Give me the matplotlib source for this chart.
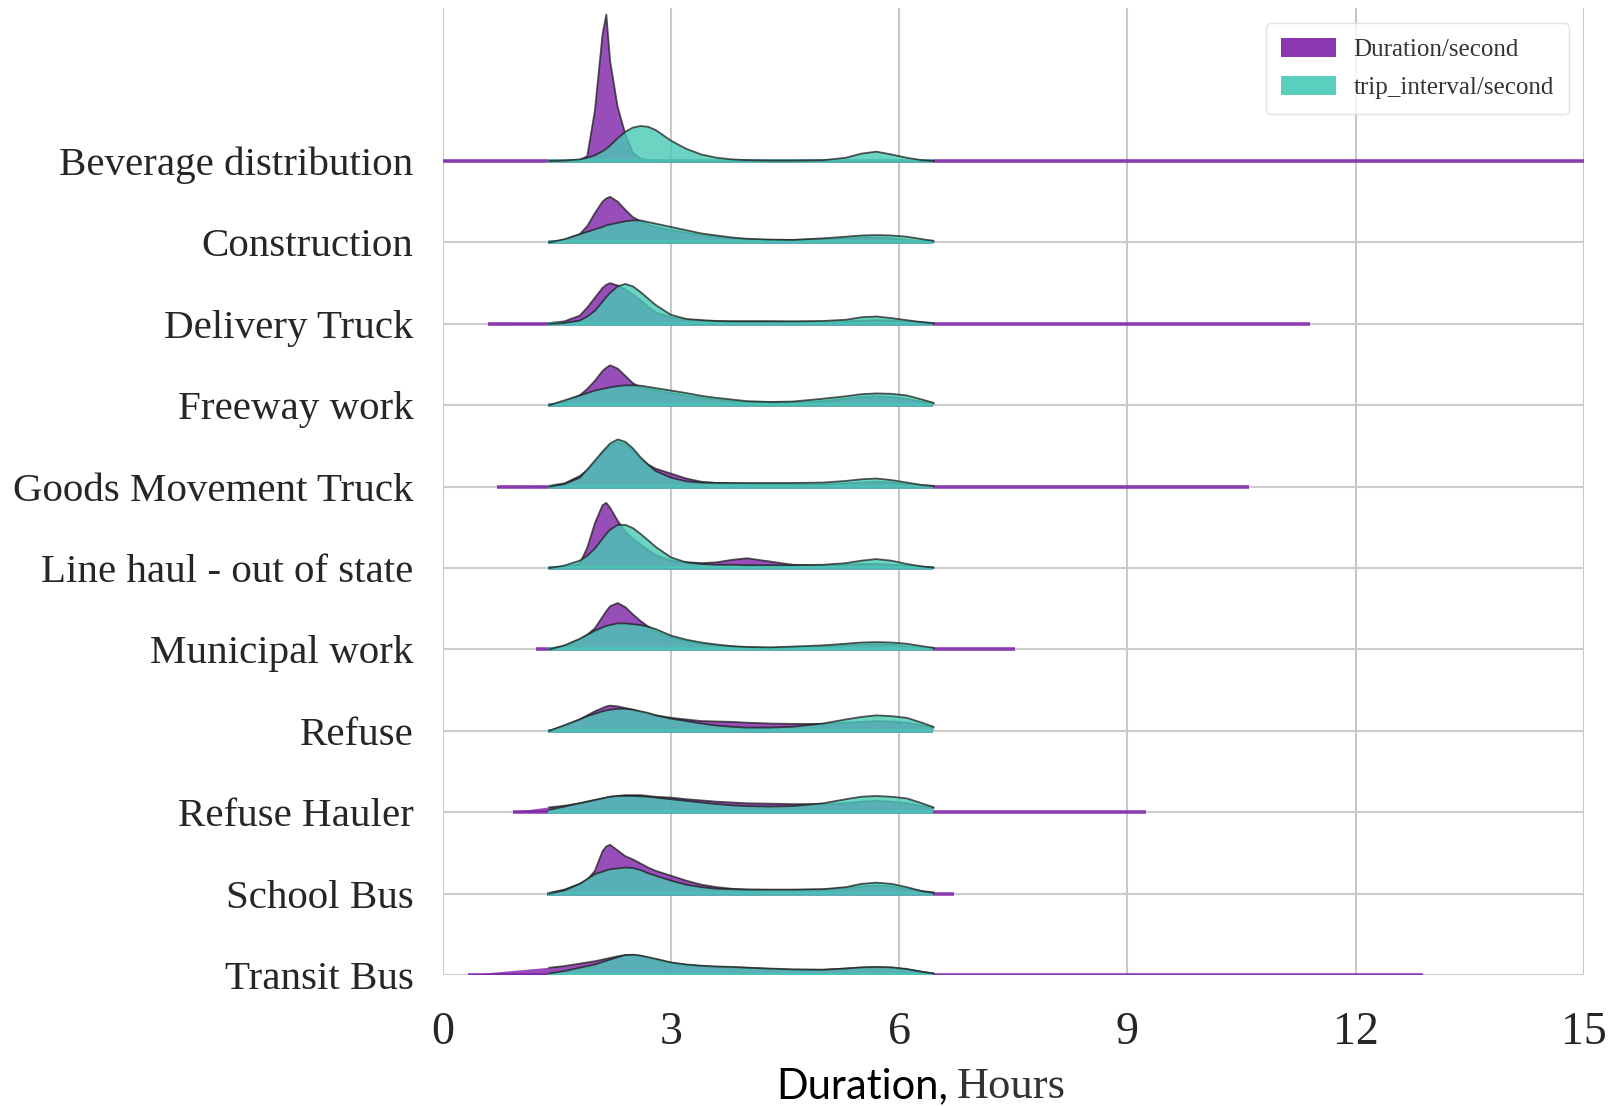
import matplotlib.pyplot as plt
from matplotlib.patches import Patch

plt.rcParams['font.family'] = ['Liberation Serif', 'DejaVu Serif']

CATEGORIES = ["Beverage distribution", "Construction", "Delivery Truck", "Freeway work",
              "Goods Movement Truck", "Line haul - out of state", "Municipal work",
              "Refuse", "Refuse Hauler", "School Bus", "Transit Bus"]

HOURS = [1.4, 1.6, 1.8, 1.9, 2.0, 2.1, 2.15, 2.2, 2.3, 2.4, 2.5, 2.6, 2.7, 2.8, 3.0,
         3.2, 3.4, 3.6, 3.8, 4.0, 4.3, 4.6, 5.0, 5.3, 5.5, 5.7, 5.9, 6.1, 6.3, 6.45]

DURATION = [
    [0, 0, 0.01, 0.06, 0.62, 1.55, 1.80, 1.23, 0.66, 0.33, 0.10, 0.03, 0.01, 0.005, 0,
     0, 0, 0, 0, 0, 0, 0, 0, 0, 0, 0, 0, 0, 0, 0],
    [0, 0.03, 0.10, 0.20, 0.36, 0.50, 0.54, 0.56, 0.50, 0.40, 0.31, 0.26, 0.22, 0.19, 0.15,
     0.12, 0.09, 0.07, 0.05, 0.035, 0.03, 0.03, 0.04, 0.05, 0.06, 0.06, 0.05, 0.03, 0.015, 0.005],
    [0.01, 0.03, 0.10, 0.20, 0.32, 0.44, 0.48, 0.50, 0.47, 0.42, 0.36, 0.29, 0.21, 0.14, 0.08,
     0.05, 0.04, 0.03, 0.03, 0.03, 0.03, 0.025, 0.025, 0.03, 0.04, 0.045, 0.04, 0.03, 0.02, 0.01],
    [0, 0.04, 0.12, 0.20, 0.30, 0.42, 0.46, 0.49, 0.45, 0.36, 0.27, 0.22, 0.20, 0.18, 0.15,
     0.12, 0.09, 0.07, 0.05, 0.04, 0.035, 0.035, 0.05, 0.08, 0.10, 0.11, 0.10, 0.08, 0.04, 0.02],
    [0.01, 0.04, 0.13, 0.20, 0.30, 0.41, 0.46, 0.50, 0.55, 0.52, 0.44, 0.34, 0.27, 0.22, 0.16,
     0.10, 0.06, 0.045, 0.04, 0.035, 0.03, 0.03, 0.03, 0.04, 0.05, 0.06, 0.05, 0.03, 0.015, 0.01],
    [0, 0.01, 0.05, 0.25, 0.55, 0.77, 0.80, 0.74, 0.58, 0.45, 0.36, 0.29, 0.22, 0.16, 0.09,
     0.07, 0.06, 0.07, 0.10, 0.12, 0.08, 0.04, 0.03, 0.04, 0.05, 0.05, 0.04, 0.03, 0.015, 0.005],
    [0.01, 0.04, 0.12, 0.18, 0.26, 0.40, 0.47, 0.53, 0.57, 0.52, 0.43, 0.35, 0.28, 0.22, 0.15,
     0.10, 0.07, 0.05, 0.035, 0.025, 0.02, 0.025, 0.035, 0.05, 0.06, 0.065, 0.06, 0.04, 0.02, 0.01],
    [0, 0.06, 0.14, 0.19, 0.24, 0.28, 0.30, 0.31, 0.30, 0.28, 0.26, 0.23, 0.21, 0.19, 0.16,
     0.14, 0.12, 0.115, 0.11, 0.10, 0.09, 0.085, 0.085, 0.10, 0.11, 0.12, 0.115, 0.10, 0.07, 0.04],
    [0.06, 0.08, 0.11, 0.13, 0.15, 0.17, 0.18, 0.19, 0.20, 0.21, 0.21, 0.21, 0.20, 0.19, 0.18,
     0.16, 0.145, 0.13, 0.12, 0.11, 0.105, 0.10, 0.10, 0.11, 0.13, 0.14, 0.13, 0.11, 0.08, 0.05],
    [0.01, 0.05, 0.12, 0.17, 0.28, 0.52, 0.58, 0.60, 0.53, 0.46, 0.42, 0.37, 0.32, 0.28, 0.22,
     0.16, 0.11, 0.08, 0.06, 0.05, 0.045, 0.045, 0.05, 0.07, 0.09, 0.10, 0.09, 0.06, 0.03, 0.015],
    [0.09, 0.11, 0.14, 0.155, 0.17, 0.19, 0.20, 0.21, 0.23, 0.245, 0.245, 0.235, 0.21, 0.19, 0.15,
     0.125, 0.11, 0.10, 0.095, 0.09, 0.075, 0.065, 0.065, 0.08, 0.09, 0.095, 0.09, 0.07, 0.04, 0.02],
]

TRIP_INTERVAL = [
    [0, 0.005, 0.02, 0.04, 0.07, 0.12, 0.15, 0.19, 0.28, 0.36, 0.41, 0.43, 0.42, 0.38, 0.25,
     0.15, 0.08, 0.04, 0.02, 0.01, 0.005, 0.005, 0.01, 0.04, 0.09, 0.115, 0.08, 0.04, 0.01, 0],
    [0, 0.04, 0.10, 0.13, 0.16, 0.19, 0.21, 0.22, 0.24, 0.26, 0.27, 0.27, 0.25, 0.23, 0.19,
     0.15, 0.11, 0.085, 0.06, 0.045, 0.035, 0.03, 0.05, 0.07, 0.085, 0.09, 0.085, 0.07, 0.04, 0.02],
    [0, 0.01, 0.04, 0.09, 0.16, 0.27, 0.33, 0.38, 0.46, 0.49, 0.46, 0.39, 0.31, 0.23, 0.11,
     0.06, 0.045, 0.035, 0.03, 0.03, 0.03, 0.03, 0.035, 0.05, 0.08, 0.09, 0.07, 0.045, 0.02, 0.005],
    [0, 0.06, 0.12, 0.15, 0.18, 0.20, 0.21, 0.22, 0.235, 0.245, 0.245, 0.24, 0.225, 0.21, 0.18,
     0.15, 0.115, 0.09, 0.07, 0.05, 0.04, 0.045, 0.08, 0.11, 0.135, 0.145, 0.14, 0.12, 0.07, 0.03],
    [0, 0.03, 0.11, 0.21, 0.32, 0.43, 0.48, 0.53, 0.58, 0.55, 0.47, 0.36, 0.27, 0.19, 0.11,
     0.065, 0.05, 0.045, 0.045, 0.045, 0.045, 0.045, 0.05, 0.07, 0.09, 0.10, 0.08, 0.05, 0.02, 0.005],
    [0, 0.03, 0.09, 0.15, 0.24, 0.36, 0.42, 0.47, 0.53, 0.53, 0.49, 0.42, 0.34, 0.26, 0.13,
     0.07, 0.05, 0.04, 0.04, 0.035, 0.035, 0.035, 0.04, 0.06, 0.09, 0.11, 0.09, 0.05, 0.02, 0.005],
    [0, 0.05, 0.13, 0.18, 0.23, 0.27, 0.29, 0.30, 0.32, 0.32, 0.31, 0.30, 0.28, 0.25, 0.17,
     0.12, 0.085, 0.06, 0.04, 0.03, 0.025, 0.035, 0.05, 0.07, 0.085, 0.09, 0.085, 0.07, 0.04, 0.02],
    [0, 0.07, 0.14, 0.18, 0.21, 0.24, 0.25, 0.26, 0.27, 0.27, 0.26, 0.24, 0.22, 0.19, 0.15,
     0.12, 0.09, 0.065, 0.05, 0.04, 0.04, 0.05, 0.09, 0.14, 0.17, 0.19, 0.18, 0.16, 0.10, 0.05],
    [0.03, 0.07, 0.11, 0.13, 0.15, 0.17, 0.18, 0.19, 0.20, 0.20, 0.20, 0.195, 0.19, 0.18, 0.16,
     0.14, 0.12, 0.10, 0.085, 0.075, 0.07, 0.075, 0.11, 0.16, 0.19, 0.20, 0.19, 0.17, 0.11, 0.06],
    [0, 0.04, 0.12, 0.18, 0.24, 0.27, 0.285, 0.30, 0.31, 0.32, 0.315, 0.29, 0.25, 0.22, 0.16,
     0.11, 0.08, 0.06, 0.055, 0.05, 0.05, 0.05, 0.055, 0.08, 0.12, 0.135, 0.12, 0.08, 0.03, 0.01],
    [0.02, 0.05, 0.09, 0.11, 0.13, 0.16, 0.175, 0.19, 0.22, 0.245, 0.25, 0.24, 0.22, 0.20, 0.155,
     0.13, 0.115, 0.105, 0.10, 0.09, 0.08, 0.07, 0.065, 0.08, 0.095, 0.10, 0.095, 0.075, 0.04, 0.02],
]

# data range (hours) of each ridge
DURATION_START = [0.0, 1.38, 0.59, 1.38, 0.71, 1.38, 1.23, 1.38, 0.92, 1.37, 0.33]
DURATION_END = [15.0, 6.45, 11.4, 6.45, 10.6, 6.45, 7.52, 6.45, 9.25, 6.72, 12.89]
TRIP_START = [1.38] * 11
TRIP_END = [6.45] * 11

XTICKS = [0, 3, 6, 9, 12, 15]

PURPLE = "#7e22a8"
TEAL = "#48cab6"
EDGE = "#1e1e1e"

fig = plt.figure(figsize=(16.16, 11.06), dpi=100)
ax = fig.add_axes([0.274, 0.1184, 0.706, 0.8744])

n = len(CATEGORIES)
for i, name in enumerate(CATEGORIES):
    base = n - 1 - i
    z = 2 + i * 4
    ax.axhline(base, color="#cccccc", lw=1.5, zorder=z - 0.5)
    for vals, start, end, color in ((DURATION[i], DURATION_START[i], DURATION_END[i], PURPLE),
                                    (TRIP_INTERVAL[i], TRIP_START[i], TRIP_END[i], TEAL)):
        xs = [start] + HOURS + [HOURS[-1], end]
        ys = [base] + [base + v for v in vals] + [base, base]
        ax.plot([start, end], [base, base], color=color, lw=2.6, alpha=0.85,
                solid_capstyle="butt", zorder=z)
        ax.fill_between(xs, base, ys, facecolor=color, alpha=0.8, lw=0, zorder=z + 0.5)
        ax.plot(xs[1:-2], ys[1:-2], color=EDGE, lw=1.3, alpha=0.75, zorder=z + 0.6)
        z += 1.5

ax.set_xlim(0, 15)
ax.set_ylim(0, 11.88)
ax.set_xticks(XTICKS)
ax.set_xticklabels([str(t) for t in XTICKS])
ax.set_yticks([n - 1 - i for i in range(n)])
ax.set_yticklabels(CATEGORIES)
ax.tick_params(axis="y", length=0, pad=21, labelsize=29.5, labelcolor="#262626")
ax.tick_params(axis="x", length=0, pad=26, labelsize=33, labelcolor="#262626")
ax.grid(axis="x", color="#c8c8c8", lw=1.5, zorder=0)
ax.set_axisbelow(True)
for s in ax.spines.values():
    s.set_visible(False)

handles = [Patch(facecolor=PURPLE, alpha=0.9, label="Duration/second"),
           Patch(facecolor=TEAL, alpha=0.9, label="trip_interval/second")]
leg = ax.legend(handles=handles, loc="upper right", fontsize=18, handlelength=2.2,
                handleheight=0.8, handletextpad=0.7, labelspacing=0.6,
                frameon=True, edgecolor="#dddddd", borderaxespad=0.6, borderpad=0.6)
leg.set_zorder(100)
for t in leg.get_texts():
    t.set_color("#333333")

fig.text(0.587, 0.007, "Duration,", ha="right", va="baseline", fontsize=30,
         family=["Lato", "DejaVu Sans"], color="black")
fig.text(0.592, 0.007, "Hours", ha="left", va="baseline", fontsize=32, color="#333333")

fig.savefig("out.png", dpi=100)
